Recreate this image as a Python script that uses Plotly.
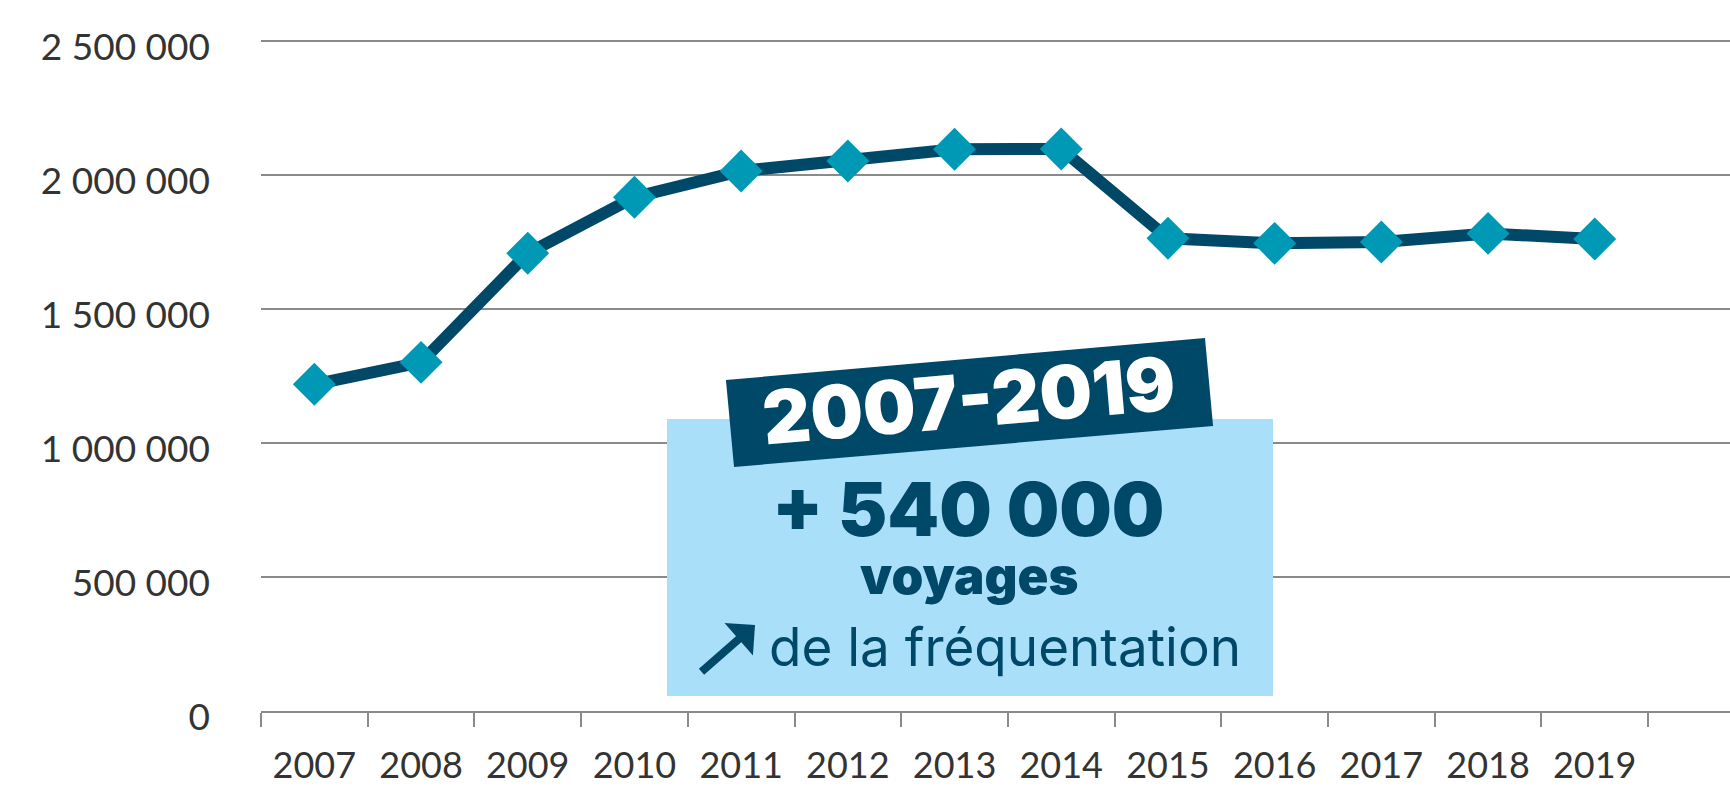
import plotly.graph_objects as go

# ---- data ----
years = ["2007", "2008", "2009", "2010", "2011", "2012", "2013",
         "2014", "2015", "2016", "2017", "2018", "2019"]
voyages = [1219000, 1301000, 1708000, 1917000, 2015000, 2052000, 2096000,
           2097000, 1764000, 1745000, 1750000, 1782000, 1761000]
y_tickvals = [0, 500000, 1000000, 1500000, 2000000, 2500000]
y_ticktext = ["0", "500 000", "1 000 000", "1 500 000", "2 000 000", "2 500 000"]
badge_text = "2007-2019"
big_number = "+ 540 000"
unit_text = "voyages"
caption_text = "de la fréquentation"

NAVY = "#004868"
TEAL = "#0099b5"
LIGHT = "#aadffa"
GRID = "#8a8a8a"
TXT = "#333333"

# layout geometry (pixels)
W, H = 1730, 788
L, R, T, B = 261, 0, 30, 77
PW, PH = W - L - R, H - T - B
cat_w = 106.7
y_top = 2500000 * PH / 670.0


def px(x):
    return (x - L) / PW


def py(y):
    return (H - B - y) / PH


fig = go.Figure()
fig.add_trace(go.Scatter(
    x=years, y=voyages, mode="lines+markers",
    line=dict(color=NAVY, width=12),
    marker=dict(symbol="diamond", size=33, color=TEAL, line=dict(width=0)),
    hoverinfo="skip", showlegend=False,
))

shapes = [
    dict(type="rect", xref="paper", yref="paper",
         x0=px(667), x1=px(1273), y0=py(696), y1=py(419),
         fillcolor=LIGHT, line=dict(width=0), layer="above"),
    dict(type="path", xref="paper", yref="paper",
         path="M {:.4f},{:.4f} L {:.4f},{:.4f} L {:.4f},{:.4f} L {:.4f},{:.4f} Z".format(
             px(726), py(380), px(1205), py(338), px(1213), py(426), px(734), py(467)),
         fillcolor=NAVY, line=dict(width=0), layer="above"),
]

HEAVY = "Inter"
annotations = [
    dict(xref="paper", yref="paper", x=px(969), y=py(400), text=badge_text,
         showarrow=False, textangle=-4.9, xanchor="center", yanchor="middle",
         font=dict(family=HEAVY, size=74, color="white", weight=900)),
    dict(xref="paper", yref="paper", x=px(968), y=py(509), text=big_number,
         showarrow=False, xanchor="center", yanchor="middle",
         font=dict(family=HEAVY, size=74, color=NAVY, weight=900)),
    dict(xref="paper", yref="paper", x=px(969), y=py(575), text=unit_text,
         showarrow=False, xanchor="center", yanchor="middle",
         font=dict(family=HEAVY, size=51, color=NAVY, weight=900)),
    dict(xref="paper", yref="paper", x=px(1005), y=py(647), text=caption_text,
         showarrow=False, xanchor="center", yanchor="middle",
         font=dict(family=HEAVY, size=53, color=NAVY, weight=400)),
    dict(xref="paper", yref="paper", x=px(755), y=py(625), text="",
         showarrow=True, ax=-55, ay=48, arrowhead=1, arrowsize=0.9,
         arrowwidth=8, arrowcolor=NAVY, standoff=0, startstandoff=0),
]

fig.update_layout(
    width=W, height=H,
    margin=dict(l=L, r=R, t=T, b=B, pad=0),
    paper_bgcolor="white", plot_bgcolor="white",
    shapes=shapes, annotations=annotations,
    font=dict(family="Lato", color=TXT),
    xaxis=dict(
        type="category", range=[-0.5, -0.5 + PW / cat_w],
        tickson="boundaries", ticks="outside", ticklen=14, tickwidth=1.5,
        tickcolor=GRID, showline=True, linecolor=GRID, linewidth=2,
        showgrid=False, zeroline=False,
        tickfont=dict(family="Lato", size=36, color=TXT, weight=400),
        ticklabelstandoff=22,
    ),
    yaxis=dict(
        range=[0, y_top], tickmode="array", tickvals=y_tickvals,
        ticktext=y_ticktext, showgrid=True, gridcolor=GRID, gridwidth=1.5,
        zeroline=False, showline=False, ticks="",
        tickfont=dict(family="Lato", size=37, color=TXT, weight=400),
        ticklabelstandoff=50, ticklabelshift=6,
    ),
)

fig.write_html("out.html", config={"displayModeBar": False},
               post_script="document.body.style.margin='0';")
